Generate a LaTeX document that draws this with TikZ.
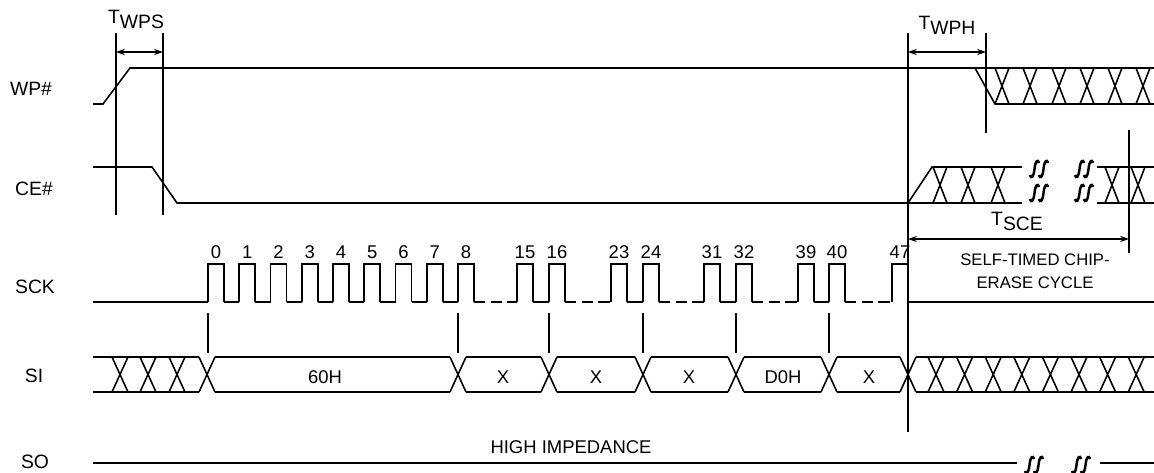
\documentclass[tikz,border=0pt]{standalone}
\usepackage{fontspec}
\setmainfont{Liberation Sans}
\usepackage{tikz}
\usetikzlibrary{arrows.meta}

\begin{document}
\begin{tikzpicture}[x=0.02cm, y=-0.02cm,
  sig/.style={line width=0.9pt},
  dim/.style={{Stealth[length=5pt,width=3.5pt]}-{Stealth[length=5pt,width=3.5pt]}, line width=0.7pt},
  siglabel/.style={font=\fontsize{11}{13}\selectfont, inner sep=0pt},
  txt/.style={font=\fontsize{10.5}{12}\selectfont, inner sep=0pt},
  num/.style={font=\fontsize{10.5}{12}\selectfont, inner sep=0pt},
  tlabel/.style={font=\fontsize{11}{13}\selectfont, inner sep=0pt, anchor=base},
  brk/.pic={
    \foreach \d in {-4.5,4.5}
      \draw[line width=1.4pt] (\d-4.5,6) .. controls (\d-3.5,10) and (\d-1,9) .. (\d,0)
        .. controls (\d+1,-9) and (\d+3.5,-10) .. (\d+4.5,-6);
  }]
\useasboundingbox (0,0) rectangle (1154,473);

% Signal names
\node[siglabel] (wp) at (31,89) {WP\#};
\node[siglabel] (ce) at (34,189) {CE\#};
\node[siglabel] (sck) at (35,287) {SCK};
\node[siglabel] (si) at (34,376) {SI};
\node[siglabel] (so) at (35,462) {SO};

% WP#
\draw[sig] (93,104) -- (103,104) -- (130,68) -- (1154,68);
\draw[sig] (975,68) -- (995,104) -- (1154,104);
\foreach \x in {1002,1030,1059,1087,1115,1143}
  \draw[sig] (\x-7,68) -- (\x+7,104) (\x-7,104) -- (\x+7,68);

% CE#
\draw[sig] (93,167) -- (152,167) -- (177,203) -- (1022,203);
\draw[sig] (908,203) -- (932,167) -- (1022,167);
\draw[sig] (1097,167) -- (1154,167) (1097,203) -- (1154,203);
\foreach \x in {940,968,998,1112,1138}
  \draw[sig] (\x-7,167) -- (\x+7,203) (\x-7,203) -- (\x+7,167);
\pic at (1039,169) {brk};
\pic at (1039,193) {brk};
\pic at (1084,169) {brk};
\pic at (1084,193) {brk};

% SCK pulses (rise at x, 16 wide)
\foreach \n/\x in {0/208, 1/239.25, 2/270.5, 3/301.75, 4/333, 5/364.25, 6/395.5, 7/426.75,
    8/458, 15/517, 16/549, 23/611, 24/643, 31/704, 32/736, 39/798, 40/829, 47/892} {
  \draw[sig] (\x,302) -- (\x,264) -- (\x+16,264) -- (\x+16,302);
  \node[num] (c\n) at (\x+8,252) {\n};
}
% SCK low level
\foreach \a/\b in {93/208, 224/239.25, 255.25/270.5, 286.5/301.75, 317.75/333, 349/364.25,
    380.25/395.5, 411.5/426.75, 442.75/458, 533/549, 627/643, 720/736, 814/829, 908/1154}
  \draw[sig] (\a,302) -- (\b,302);
\foreach \a/\b in {474/517, 565/611, 659/704, 752/798, 845/892}
  \draw[sig, dash pattern=on 6.5pt off 3pt] (\a,302) -- (\b,302);

% clock edge markers
\foreach \x in {208,458,549,643,736,829}
  \draw[sig] (\x,313) -- (\x,353);

% SI
\draw[sig] (93,357) -- (199,357) (93,392) -- (199,392);
\foreach \x in {120,148,177}
  \draw[sig] (\x-8,357) -- (\x+8,392) (\x-8,392) -- (\x+8,357);
\foreach \a/\b in {207/458, 458/549, 549/643, 643/736, 736/829, 829/908}
  \draw[sig] (\a+8,357) -- (\b-8,357) (\a+8,392) -- (\b-8,392);
\foreach \x in {207,458,549,643,736,829,908}
  \draw[sig] (\x-8,357) -- (\x+8,392) (\x-8,392) -- (\x+8,357);
\draw[sig] (916,357) -- (1154,357) (916,392) -- (1154,392);
\foreach \x in {936,964.6,993.2,1021.8,1050.4,1079,1107.6,1136.2}
  \draw[sig] (\x-8,357) -- (\x+8,392) (\x-8,392) -- (\x+8,357);
\foreach \x/\label in {325/60H, 503/X, 596/X, 689/X, 783/D0H, 869/X}
  \node[txt] (si-\x) at (\x,377) {\label};

% SO
\draw[sig] (93,463) -- (1017,463) (1100,463) -- (1154,463);
\pic at (1034,465) {brk};
\pic at (1081,465) {brk};
\node[txt] (hiz) at (571,447) {HIGH IMPEDANCE};

% timing lines
\draw[sig] (116,33) -- (116,215);
\draw[sig] (163,33) -- (163,215);
\draw[sig] (908,33) -- (908,432);
\draw[sig] (986,33) -- (986,133);
\draw[sig] (1129,130) -- (1129,253);

% TWPS, TWPH, TSCE
\coordinate (wps-a) at (116,52);
\coordinate (wps-b) at (163,52);
\coordinate (wph-a) at (908,52);
\coordinate (wph-b) at (986,52);
\coordinate (sce-a) at (908,239);
\coordinate (sce-b) at (1129,239);
\draw[dim] (wps-a) -- (wps-b);
\draw[dim] (wph-a) -- (wph-b);
\draw[dim] (sce-a) -- (sce-b);
\node[tlabel] (twps) at (136,24) {T\raisebox{-2.8pt}{WPS}};
\node[tlabel] (twph) at (947,30) {T\raisebox{-2.8pt}{WPH}};
\node[tlabel] (tsce) at (1017,226) {T\raisebox{-2.8pt}{SCE}};
\node[font=\fontsize{9.5}{13}\selectfont, align=center, inner sep=0pt] (cycle) at (1035,271)
  {SELF-TIMED CHIP-\\ERASE CYCLE};

\end{tikzpicture}
\end{document}
